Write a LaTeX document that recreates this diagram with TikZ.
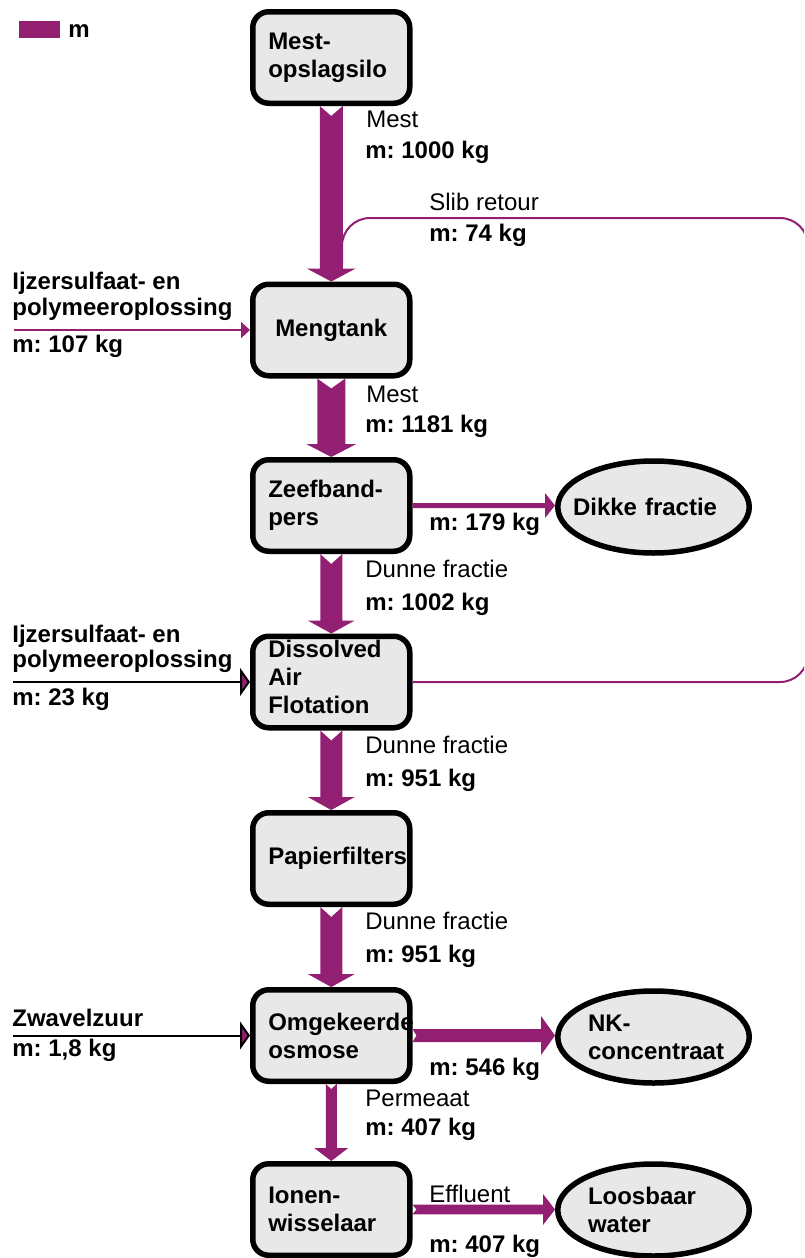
\documentclass[tikz,border=0pt]{standalone}
\usepackage{fontspec}
\setmainfont{Liberation Sans}
\usetikzlibrary{calc,shapes.geometric,arrows.meta}
\definecolor{flowc}{RGB}{147,31,114}
\definecolor{boxfill}{RGB}{232,232,232}
\hyphenpenalty=10000
\exhyphenpenalty=10000
\frenchspacing

% Mass flow pointing down: #1 source, #2 target, #3 half shaft width,
% #4 half head width, #5 head length, #6 tail notch depth
\newcommand\vflow[6]{%
  \fill[flowfill] let \p1=(#1.south), \p2=(#2.north) in
    (\x1-#3,\y1) -- (\x1,\y1-#6) -- (\x1+#3,\y1) -- (\x1+#3,\y2+#5)
    -- (\x1+#4,\y2+#5) -- (\x1,\y2) -- (\x1-#4,\y2+#5) -- (\x1-#3,\y2+#5) -- cycle;}
% Mass flow pointing right: same arguments
\newcommand\hflow[6]{%
  \fill[flowfill] let \p1=(#1.east), \p2=(#2.west) in
    (\x1,\y1+#3) -- (\x2-#5,\y1+#3) -- (\x2-#5,\y1+#4) -- (\x2,\y1)
    -- (\x2-#5,\y1-#4) -- (\x2-#5,\y1-#3) -- (\x1,\y1-#3) -- (\x1+#6,\y1) -- cycle;}

\tikzset{
  every node/.style={font=\fontsize{12}{14}\selectfont},
  unit/.style={draw=black, line width=2.75pt, fill=boxfill, rounded corners=8pt,
    minimum width=78.5pt, minimum height=45.75pt, text width=63pt,
    inner xsep=7.75pt, inner ysep=1pt, align=left,
    font=\fontsize{12}{14}\selectfont\bfseries},
  product/.style={ellipse, draw=black, line width=2.75pt, fill=boxfill,
    minimum width=95.75pt, minimum height=46pt, inner sep=0pt},
  producttext/.style={align=left, inner sep=0pt,
    font=\fontsize{12}{14}\selectfont\bfseries},
  flowname/.style={anchor=base west, inner sep=0pt},
  flowmass/.style={anchor=base west, inner sep=0pt,
    font=\fontsize{12}{14}\selectfont\bfseries},
  flowfill/.style={fill=flowc},
  retour/.style={draw=flowc, line width=1pt, rounded corners=14pt},
  feedpurple/.style={draw=flowc, line width=1.25pt, -{Triangle[length=4.5pt,width=8pt]}},
  feedblack/.style={draw=black, line width=1pt, -{Triangle[length=5pt,width=14pt,fill=flowc]}},
}

\begin{document}
\begin{tikzpicture}[x=0.5pt,y=-0.5pt]
\useasboundingbox (0,0) rectangle (804,1258);
\clip (0,0) rectangle (804,1258);

% legend
\node[fill=flowc, minimum width=20.5pt, minimum height=8.5pt, inner sep=0pt] (legkey) at (39.5,29.5) {};
\node[flowmass] (legm) at (68,37) {m};

% process units
\node[unit] (silo) at (331.25,57.5) {Mest-\\opslagsilo};
\node[unit, align=center] (meng) at (331.25,330) {Mengtank};
\node[unit] (zeef) at (331.25,505.5) {Zeefband-\\pers};
\node[unit, text height=8.6pt, text depth=33.6pt] (daf) at (331.25,682) {Dissolved\\Air\\Flotation};
\node[unit] (papier) at (331.25,858.5) {Papierfilters};
\node[unit] (ro) at (331.25,1035.5) {Omgekeerde\\osmose};
\node[unit] (ionen) at (331.25,1209.5) {Ionen-\\wisselaar};

% end products
\node[product] (dikke) at (653.5,507) {};
\node[producttext, text width=80.5pt] (dikketxt) at (dikke) {Dikke fractie};
\node[product] (nk) at (653.5,1037) {};
\node[producttext, text width=65.5pt] (nktxt) at (nk) {NK-\\concentraat};
\node[product] (loos) at (653.5,1210) {};
\node[producttext, text width=65.5pt] (loostxt) at (loos) {Loosbaar\\water};

% sludge return loop from the flotation back into the mixing tank feed
\coordinate (loopNE) at (808,218);
\coordinate (joinpt) at (342,264);
\draw[retour] (daf.east) -- (daf.east -| loopNE) -- (loopNE) -- (loopNE -| joinpt) -- (joinpt);

% main mass flows
\vflow{silo}{meng}{5.75pt}{12.25pt}{6.5pt}{5pt}
\vflow{meng}{zeef}{7pt}{12.5pt}{6.5pt}{5pt}
\vflow{zeef}{daf}{5.5pt}{11.75pt}{6.5pt}{5pt}
\vflow{daf}{papier}{5.5pt}{11.75pt}{6.5pt}{5pt}
\vflow{papier}{ro}{5.5pt}{11.75pt}{6.5pt}{5pt}
\vflow{ro}{ionen}{2.75pt}{8.5pt}{6.5pt}{2.5pt}
\hflow{zeef}{dikke}{1.25pt}{6.25pt}{5pt}{0pt}
\hflow{ro}{nk}{3.25pt}{9.75pt}{7pt}{2pt}
\hflow{ionen}{loos}{2.4pt}{7.75pt}{6pt}{2pt}

% chemical feeds
\coordinate (feed1) at (14,330);
\coordinate (feed2) at (13,682);
\coordinate (feed3) at (13,1035.5);
\draw[feedpurple] (feed1) -- (meng.west);
\draw[feedblack] (feed2) -- (daf.west);
\draw[feedblack] (feed3) -- (ro.west);

% flow labels
\node[flowname] (l1a) at (366,127) {Mest};
\node[flowmass] (l1b) at (365,158) {m: 1000 kg};
\node[flowname] (l2a) at (429,210) {Slib retour};
\node[flowmass] (l2b) at (429,241) {m: 74 kg};
\node[flowmass] (f1a) at (12,289) {Ijzersulfaat- en};
\node[flowmass] (f1b) at (12,315) {polymeeroplossing};
\node[flowmass] (f1c) at (12,352) {m: 107 kg};
\node[flowname] (l3a) at (366,402) {Mest};
\node[flowmass] (l3b) at (365,432) {m: 1181 kg};
\node[flowmass] (l4b) at (429,530) {m: 179 kg};
\node[flowname] (l5a) at (365,577) {Dunne fractie};
\node[flowmass] (l5b) at (365,610) {m: 1002 kg};
\node[flowmass] (f2a) at (12,642) {Ijzersulfaat- en};
\node[flowmass] (f2b) at (12,667) {polymeeroplossing};
\node[flowmass] (f2c) at (12,705) {m: 23 kg};
\node[flowname] (l6a) at (365,753) {Dunne fractie};
\node[flowmass] (l6b) at (365,786) {m: 951 kg};
\node[flowname] (l7a) at (365,929) {Dunne fractie};
\node[flowmass] (l7b) at (365,962) {m: 951 kg};
\node[flowmass] (f3a) at (12,1026) {Zwavelzuur};
\node[flowmass] (f3b) at (12,1056) {m: 1,8 kg};
\node[flowmass] (l8b) at (429,1075) {m: 546 kg};
\node[flowname] (l9a) at (365,1106) {Permeaat};
\node[flowmass] (l9b) at (365,1135) {m: 407 kg};
\node[flowname] (l10a) at (429,1202) {Effluent};
\node[flowmass] (l10b) at (429,1252) {m: 407 kg};
\end{tikzpicture}
\end{document}
